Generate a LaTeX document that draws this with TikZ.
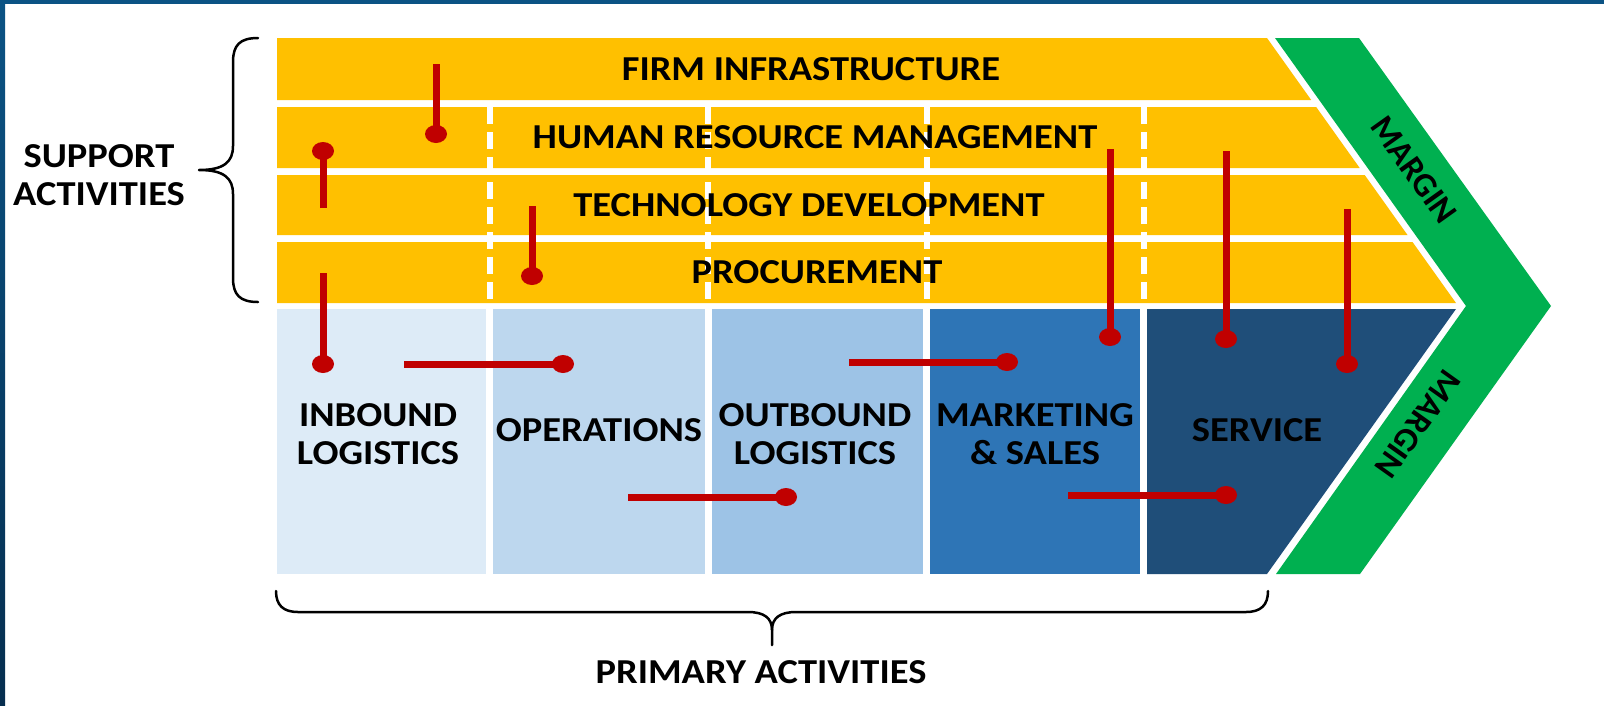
\documentclass[tikz,border=0pt]{standalone}
\usepackage{fontspec}
\setmainfont{Carlito}[FakeStretch=1.10]
\newfontfamily\marginfont{Carlito}
\usetikzlibrary{shapes.geometric}
\definecolor{gold}{HTML}{FFC000}
\definecolor{mgreen}{HTML}{00B050}
\definecolor{pinred}{HTML}{C00000}
\definecolor{colA}{HTML}{DDEBF7}
\definecolor{colB}{HTML}{BDD7EE}
\definecolor{colC}{HTML}{9DC3E6}
\definecolor{colD}{HTML}{2E75B6}
\definecolor{colE}{HTML}{1F4E79}
\definecolor{frameblue}{HTML}{0B5384}
\definecolor{framedark}{HTML}{062E4F}
\begin{document}
\begin{tikzpicture}[x=1pt,y=-1pt,
  lbl/.style={font=\fontsize{35}{38}\selectfont\bfseries, text=black, inner sep=0pt, align=center},
  mlbl/.style={font=\marginfont\fontsize{34}{36}\selectfont\bfseries, text=black, inner sep=0pt},
  pinline/.style={draw=pinred, line width=7pt},
  pindot/.style={ellipse, fill=pinred, minimum width=22pt, minimum height=18pt, inner sep=0pt},
  bracestyle/.style={draw=black, line width=2.5pt, line cap=round, line join=round},
  sepline/.style={draw=white, line width=6pt, dash pattern=on 17pt off 8pt}]
\useasboundingbox (0,0) rectangle (1604,705);
\fill[white] (0,0) rectangle (1604,705);
% frame
\fill[frameblue] (0,0) rectangle (1604,4);
\shade[top color=frameblue, bottom color=framedark] (0,0) rectangle (5,705);
% support rows
\fill[gold] (277,38) -- (1267,38) -- (1311.2,100) -- (277,100) -- cycle;
\fill[gold] (277,107) -- (1316.2,107) -- (1359.7,168) -- (277,168) -- cycle;
\fill[gold] (277,175) -- (1364.7,175) -- (1407.5,235) -- (277,235) -- cycle;
\fill[gold] (277,242) -- (1412.5,242) -- (1456,303) -- (277,303) -- cycle;
% dashed separators
\foreach \xx in {490,708,926.5,1144} {\draw[sepline] (\xx,107) -- (\xx,303);}
% primary columns
\fill[colA] (277,309) rectangle (486,574);
\fill[colB] (493,309) rectangle (705,574);
\fill[colC] (712,309) rectangle (923,574);
\fill[colD] (930,309) rectangle (1140,574);
\fill[colE] (1147,309) -- (1456,309) -- (1267,574) -- (1147,574) -- cycle;
% margin chevron
\fill[mgreen] (1275,38) -- (1359,38) -- (1551,306) -- (1360,574) -- (1276,574) -- (1466,306) -- cycle;
% braces
\draw[bracestyle] (258,38) .. controls (240,38) and (233,45) .. (233,62) -- (233,146)
  .. controls (233,162) and (224,170) .. (199,170)
  .. controls (224,170) and (233,178) .. (233,194) -- (233,278)
  .. controls (233,295) and (240,302) .. (258,302);
\draw[bracestyle] (276,591) .. controls (276,605) and (283,612) .. (298,612) -- (748,612)
  .. controls (764,612) and (772,618) .. (772,630) -- (772,645);
\draw[bracestyle] (772,630) .. controls (772,618) and (780,612) .. (796,612) -- (1246,612)
  .. controls (1261,612) and (1268,605) .. (1268,591);
% pins
\coordinate (s1) at (436,64);   \node[pindot] (d1) at (436,134) {};
\coordinate (s2) at (323,208);  \node[pindot] (d2) at (323,151) {};
\coordinate (s3) at (532,206);  \node[pindot] (d3) at (532,276) {};
\coordinate (s4) at (323,273);  \node[pindot] (d4) at (323,364) {};
\coordinate (s5) at (404,364);  \node[pindot] (d5) at (563,364) {};
\coordinate (s6) at (628,497);  \node[pindot] (d6) at (786,497) {};
\coordinate (s7) at (849,362);  \node[pindot] (d7) at (1007,362) {};
\coordinate (s8) at (1110,149); \node[pindot] (d8) at (1110,337) {};
\coordinate (s9) at (1226,151); \node[pindot] (d9) at (1226,339) {};
\coordinate (s10) at (1347,209); \node[pindot] (d10) at (1347,364) {};
\coordinate (s11) at (1068,495); \node[pindot] (d11) at (1226,495) {};
\foreach \i in {1,...,11} {\draw[pinline] (s\i) -- (d\i.center);}
% labels
\node[lbl] (firm) at (811,69) {FIRM INFRASTRUCTURE};
\node[lbl] (hrm) at (815,137) {HUMAN RESOURCE MANAGEMENT};
\node[lbl] (tech) at (809,205) {TECHNOLOGY DEVELOPMENT};
\node[lbl] (proc) at (817,272) {PROCUREMENT};
\node[lbl] (support) at (99,175.5) {SUPPORT\\ACTIVITIES};
\node[lbl] (inb) at (378,434) {INBOUND\\LOGISTICS};
\node[lbl] (ops) at (599,430) {OPERATIONS};
\node[lbl] (outb) at (815,434) {OUTBOUND\\LOGISTICS};
\node[lbl] (mkt) at (1035,434) {MARKETING\\\& SALES};
\node[lbl] (serv) at (1257,430) {SERVICE};
\node[lbl] (prim) at (761,672) {PRIMARY ACTIVITIES};
\node[mlbl, rotate=-54.5] (marg1) at (1414,170) {MARGIN};
\node[mlbl, rotate=-125.5] (marg2) at (1418,424) {MARGIN};
\end{tikzpicture}
\end{document}
